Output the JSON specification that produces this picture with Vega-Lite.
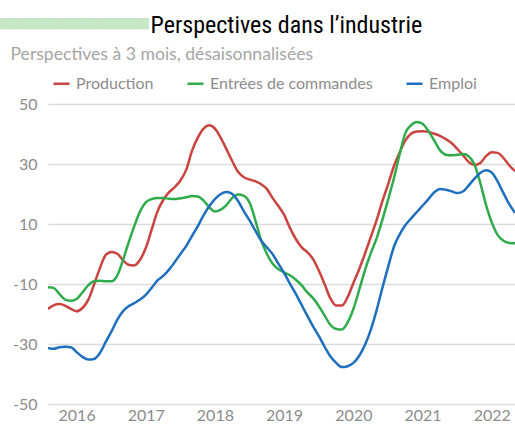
{
  "$schema": "https://vega.github.io/schema/vega-lite/v6.json",
  "autosize": "none",
  "width": 467,
  "height": 300,
  "padding": {"left": 48, "top": 104, "right": 0, "bottom": 20},
  "background": "white",
  "title": {
    "text": "██████████████████████████",
    "color": "#c5e6c7",
    "font": "DejaVu Sans Mono",
    "fontSize": 9.5,
    "anchor": "start",
    "frame": "group",
    "dx": -48,
    "dy": 15,
    "offset": 0
  },
  "data": {
    "values": [
      {"d": "2016-02-01", "Production": -18.3, "Entrées de commandes": -11.1, "Emploi": -31.3},
      {"d": "2016-03-01", "Production": -17.1, "Entrées de commandes": -11.3, "Emploi": -31.6},
      {"d": "2016-04-01", "Production": -16.7, "Entrées de commandes": -13.3, "Emploi": -31.1},
      {"d": "2016-05-01", "Production": -17.2, "Entrées de commandes": -15.2, "Emploi": -30.9},
      {"d": "2016-06-01", "Production": -18.3, "Entrées de commandes": -15.6, "Emploi": -31.1},
      {"d": "2016-07-01", "Production": -19.1, "Entrées de commandes": -15.0, "Emploi": -32.7},
      {"d": "2016-08-01", "Production": -18.0, "Entrées de commandes": -12.8, "Emploi": -34.3},
      {"d": "2016-09-01", "Production": -15.2, "Entrées de commandes": -10.4, "Emploi": -35.2},
      {"d": "2016-10-01", "Production": -10.2, "Entrées de commandes": -9.1, "Emploi": -35.0},
      {"d": "2016-11-01", "Production": -4.7, "Entrées de commandes": -8.9, "Emploi": -33.0},
      {"d": "2016-12-01", "Production": -0.4, "Entrées de commandes": -9.1, "Emploi": -29.4},
      {"d": "2017-01-01", "Production": 0.7, "Entrées de commandes": -9.1, "Emploi": -25.8},
      {"d": "2017-02-01", "Production": 0.1, "Entrées de commandes": -7.1, "Emploi": -21.9},
      {"d": "2017-03-01", "Production": -1.9, "Entrées de commandes": -2.4, "Emploi": -19.2},
      {"d": "2017-04-01", "Production": -3.6, "Entrées de commandes": 3.7, "Emploi": -17.4},
      {"d": "2017-05-01", "Production": -3.8, "Entrées de commandes": 9.2, "Emploi": -16.4},
      {"d": "2017-06-01", "Production": -1.9, "Entrées de commandes": 14.2, "Emploi": -15.2},
      {"d": "2017-07-01", "Production": 2.0, "Entrées de commandes": 17.2, "Emploi": -13.6},
      {"d": "2017-08-01", "Production": 8.1, "Entrées de commandes": 18.3, "Emploi": -11.3},
      {"d": "2017-09-01", "Production": 14.2, "Entrées de commandes": 18.7, "Emploi": -8.8},
      {"d": "2017-10-01", "Production": 18.0, "Entrées de commandes": 18.7, "Emploi": -7.3},
      {"d": "2017-11-01", "Production": 20.6, "Entrées de commandes": 18.4, "Emploi": -5.2},
      {"d": "2017-12-01", "Production": 22.3, "Entrées de commandes": 18.3, "Emploi": -2.7},
      {"d": "2018-01-01", "Production": 24.6, "Entrées de commandes": 18.6, "Emploi": 0.1},
      {"d": "2018-02-01", "Production": 28.3, "Entrées de commandes": 18.9, "Emploi": 2.8},
      {"d": "2018-03-01", "Production": 34.2, "Entrées de commandes": 19.3, "Emploi": 5.9},
      {"d": "2018-04-01", "Production": 38.7, "Entrées de commandes": 19.2, "Emploi": 9.2},
      {"d": "2018-05-01", "Production": 41.7, "Entrées de commandes": 17.9, "Emploi": 12.8},
      {"d": "2018-06-01", "Production": 42.9, "Entrées de commandes": 15.6, "Emploi": 15.9},
      {"d": "2018-07-01", "Production": 41.8, "Entrées de commandes": 14.2, "Emploi": 18.3},
      {"d": "2018-08-01", "Production": 38.7, "Entrées de commandes": 14.8, "Emploi": 20.0},
      {"d": "2018-09-01", "Production": 34.8, "Entrées de commandes": 16.4, "Emploi": 20.7},
      {"d": "2018-10-01", "Production": 30.9, "Entrées de commandes": 18.7, "Emploi": 20.0},
      {"d": "2018-11-01", "Production": 27.3, "Entrées de commandes": 19.8, "Emploi": 17.6},
      {"d": "2018-12-01", "Production": 25.6, "Entrées de commandes": 19.4, "Emploi": 14.2},
      {"d": "2019-01-01", "Production": 24.8, "Entrées de commandes": 17.0, "Emploi": 11.1},
      {"d": "2019-02-01", "Production": 24.2, "Entrées de commandes": 10.9, "Emploi": 7.6},
      {"d": "2019-03-01", "Production": 23.3, "Entrées de commandes": 4.8, "Emploi": 4.6},
      {"d": "2019-04-01", "Production": 21.7, "Entrées de commandes": 0.1, "Emploi": 2.2},
      {"d": "2019-05-01", "Production": 18.7, "Entrées de commandes": -3.2, "Emploi": 0.0},
      {"d": "2019-06-01", "Production": 16.0, "Entrées de commandes": -5.1, "Emploi": -3.2},
      {"d": "2019-07-01", "Production": 13.1, "Entrées de commandes": -6.1, "Emploi": -6.3},
      {"d": "2019-08-01", "Production": 8.7, "Entrées de commandes": -7.1, "Emploi": -9.9},
      {"d": "2019-09-01", "Production": 5.0, "Entrées de commandes": -8.6, "Emploi": -13.3},
      {"d": "2019-10-01", "Production": 2.3, "Entrées de commandes": -10.4, "Emploi": -16.9},
      {"d": "2019-11-01", "Production": 0.6, "Entrées de commandes": -12.8, "Emploi": -20.6},
      {"d": "2019-12-01", "Production": -1.7, "Entrées de commandes": -14.7, "Emploi": -24.1},
      {"d": "2020-01-01", "Production": -5.6, "Entrées de commandes": -17.4, "Emploi": -27.4},
      {"d": "2020-02-01", "Production": -10.2, "Entrées de commandes": -20.6, "Emploi": -31.0},
      {"d": "2020-03-01", "Production": -14.7, "Entrées de commandes": -23.6, "Emploi": -34.1},
      {"d": "2020-04-01", "Production": -17.2, "Entrées de commandes": -25.0, "Emploi": -36.3},
      {"d": "2020-05-01", "Production": -17.2, "Entrées de commandes": -25.2, "Emploi": -37.7},
      {"d": "2020-06-01", "Production": -14.3, "Entrées de commandes": -22.8, "Emploi": -37.4},
      {"d": "2020-07-01", "Production": -9.7, "Entrées de commandes": -18.3, "Emploi": -36.3},
      {"d": "2020-08-01", "Production": -5.0, "Entrées de commandes": -11.9, "Emploi": -33.9},
      {"d": "2020-09-01", "Production": 0.3, "Entrées de commandes": -5.2, "Emploi": -30.2},
      {"d": "2020-10-01", "Production": 5.7, "Entrées de commandes": 0.3, "Emploi": -25.2},
      {"d": "2020-11-01", "Production": 11.4, "Entrées de commandes": 5.3, "Emploi": -18.6},
      {"d": "2020-12-01", "Production": 17.6, "Entrées de commandes": 11.4, "Emploi": -11.3},
      {"d": "2021-01-01", "Production": 23.4, "Entrées de commandes": 18.3, "Emploi": -4.1},
      {"d": "2021-02-01", "Production": 29.5, "Entrées de commandes": 25.5, "Emploi": 2.6},
      {"d": "2021-03-01", "Production": 33.7, "Entrées de commandes": 32.9, "Emploi": 6.4},
      {"d": "2021-04-01", "Production": 37.8, "Entrées de commandes": 40.3, "Emploi": 9.6},
      {"d": "2021-05-01", "Production": 40.1, "Entrées de commandes": 42.9, "Emploi": 11.8},
      {"d": "2021-06-01", "Production": 40.8, "Entrées de commandes": 44.0, "Emploi": 14.0},
      {"d": "2021-07-01", "Production": 40.9, "Entrées de commandes": 43.4, "Emploi": 16.1},
      {"d": "2021-08-01", "Production": 40.7, "Entrées de commandes": 41.0, "Emploi": 18.3},
      {"d": "2021-09-01", "Production": 40.1, "Entrées de commandes": 37.8, "Emploi": 20.6},
      {"d": "2021-10-01", "Production": 39.4, "Entrées de commandes": 34.6, "Emploi": 21.7},
      {"d": "2021-11-01", "Production": 38.3, "Entrées de commandes": 33.1, "Emploi": 21.4},
      {"d": "2021-12-01", "Production": 37.0, "Entrées de commandes": 32.9, "Emploi": 20.9},
      {"d": "2022-01-01", "Production": 35.0, "Entrées de commandes": 33.1, "Emploi": 20.3},
      {"d": "2022-02-01", "Production": 32.8, "Entrées de commandes": 33.3, "Emploi": 20.9},
      {"d": "2022-03-01", "Production": 30.7, "Entrées de commandes": 32.6, "Emploi": 22.8},
      {"d": "2022-04-01", "Production": 29.7, "Entrées de commandes": 29.8, "Emploi": 25.1},
      {"d": "2022-05-01", "Production": 30.3, "Entrées de commandes": 23.9, "Emploi": 27.0},
      {"d": "2022-06-01", "Production": 32.6, "Entrées de commandes": 16.4, "Emploi": 27.9},
      {"d": "2022-07-01", "Production": 33.9, "Entrées de commandes": 10.6, "Emploi": 27.2},
      {"d": "2022-08-01", "Production": 33.7, "Entrées de commandes": 6.4, "Emploi": 24.2},
      {"d": "2022-09-01", "Production": 32.0, "Entrées de commandes": 4.4, "Emploi": 20.3},
      {"d": "2022-10-01", "Production": 29.6, "Entrées de commandes": 3.7, "Emploi": 16.7},
      {"d": "2022-11-01", "Production": 27.6, "Entrées de commandes": 3.6, "Emploi": 13.7}
    ]
  },
  "transform": [
    {"fold": ["Production", "Entrées de commandes", "Emploi"], "as": ["serie", "valeur"]}
  ],
  "mark": {"type": "line", "interpolate": "monotone", "strokeWidth": 2.5, "clip": true},
  "encoding": {
    "x": {
      "field": "d",
      "type": "temporal",
      "scale": {
        "type": "utc",
        "domain": [
          {"year": 2016, "month": 2, "date": 1, "utc": true},
          {"year": 2022, "month": 11, "date": 1, "utc": true}
        ]
      },
      "axis": {
        "values": [
          {"year": 2016, "month": 7, "date": 1, "utc": true},
          {"year": 2017, "month": 7, "date": 1, "utc": true},
          {"year": 2018, "month": 7, "date": 1, "utc": true},
          {"year": 2019, "month": 7, "date": 1, "utc": true},
          {"year": 2020, "month": 7, "date": 1, "utc": true},
          {"year": 2021, "month": 7, "date": 1, "utc": true},
          {"year": 2022, "month": 7, "date": 1, "utc": true}
        ],
        "format": "%Y",
        "grid": false,
        "ticks": false,
        "domain": false,
        "labelFont": "Lato",
        "labelFontSize": 16,
        "labelColor": "#8c8c8c",
        "labelPadding": 3,
        "title": "Perspectives à 3 mois, désaisonnalisées",
        "titleFont": "Lato",
        "titleFontSize": 17.6,
        "titleFontWeight": "normal",
        "titleColor": "#a6a6a6",
        "titleAngle": 0,
        "titleAlign": "left",
        "titleBaseline": "alphabetic",
        "titleX": -38,
        "titleY": -345
      }
    },
    "y": {
      "field": "valeur",
      "type": "quantitative",
      "scale": {"domain": [-50, 50], "nice": false, "zero": false},
      "axis": {
        "values": [-50, -30, -10, 10, 30, 50],
        "labelExpr": "datum.value + ''",
        "grid": true,
        "gridColor": "#dcdcdc",
        "gridWidth": 1.5,
        "ticks": false,
        "domain": false,
        "labelFont": "Lato",
        "labelFontSize": 16,
        "labelColor": "#8c8c8c",
        "labelPadding": 11,
        "title": "Perspectives dans l’industrie",
        "titleFont": "Liberation Sans Narrow, Roboto Condensed, DejaVu Sans Condensed, sans-serif",
        "titleFontSize": 24,
        "titleFontWeight": "normal",
        "titleColor": "#000000",
        "titleAngle": 0,
        "titleAlign": "left",
        "titleBaseline": "alphabetic",
        "titleX": 102,
        "titleY": -72
      }
    },
    "color": {
      "field": "serie",
      "type": "nominal",
      "scale": {
        "domain": ["Production", "Entrées de commandes", "Emploi"],
        "range": ["#c9443f", "#2fab4b", "#1f6fbf"]
      },
      "legend": {
        "title": null,
        "orient": "none",
        "legendX": 4,
        "legendY": -30,
        "direction": "horizontal",
        "symbolType": "stroke",
        "symbolSize": 256,
        "symbolStrokeWidth": 2.5,
        "labelFont": "Lato",
        "labelFontSize": 16,
        "labelColor": "#8c8c8c",
        "labelOffset": 5,
        "labelLimit": 400,
        "columnPadding": 28,
        "padding": 0
      }
    }
  },
  "config": {
    "view": {"stroke": null}
  }
}
